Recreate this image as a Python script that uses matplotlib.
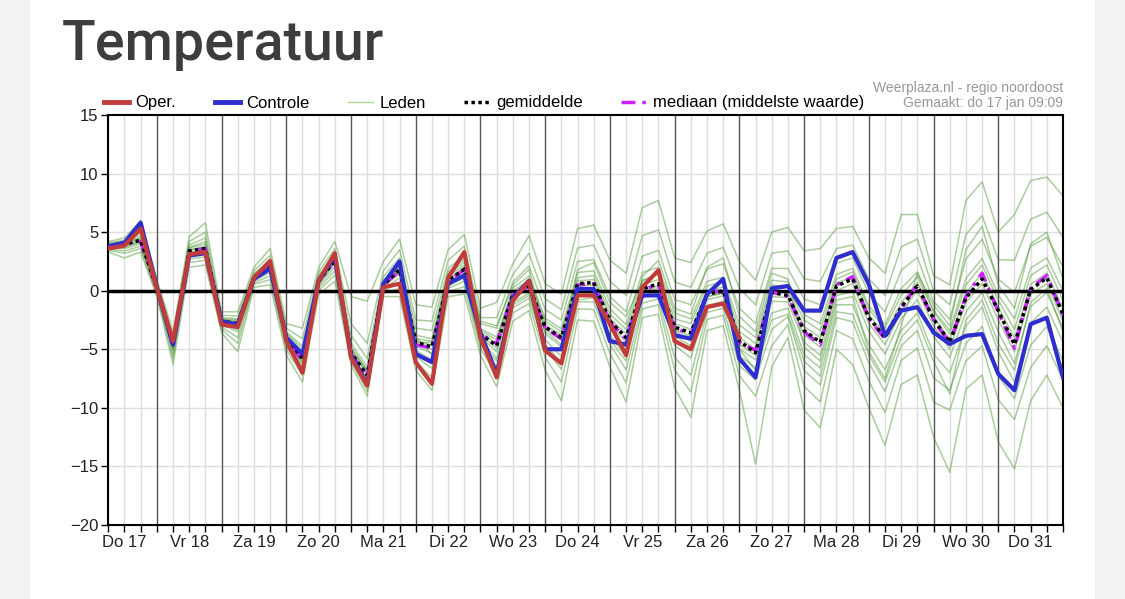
import matplotlib
matplotlib.use("Agg")
import matplotlib.pyplot as plt
from matplotlib.lines import Line2D
from matplotlib.patches import Rectangle

plt.rcParams['font.family'] = ['Liberation Sans', 'DejaVu Sans']

# time axis: hours after do 17 jan 00:00, every 6 hours
hours = list(range(6, 361, 6))
day_labels = ["Do 17", "Vr 18", "Za 19", "Zo 20", "Ma 21", "Di 22", "Wo 23", "Do 24",
              "Vr 25", "Za 26", "Zo 27", "Ma 28", "Di 29", "Wo 30", "Do 31"]

# operational run (runs until zo 27 00:00)
oper = [3.6, 3.85, 5.3, 0.2, -4.3, 3.1, 3.3, -2.9, -3.1, 1.1,
        2.55, -4.3, -7.0, 0.85, 3.2, -5.7, -8.1, 0.3, 0.6, -6.1,
        -7.95, 1.1, 3.3, -4.0, -7.4, -0.85, 0.85, -5.1, -6.2, -0.4,
        -0.4, -2.85, -5.5, 0.3, 1.75, -4.3, -5.0, -1.4, -1.1, -4.0]

controle = [3.8, 4.1, 5.8, 0.3, -4.6, 3.0, 3.2, -2.6, -2.9, 1.0,
            1.9, -4.0, -5.4, 0.9, 2.9, -5.5, -8.0, 0.6, 2.5, -5.4,
            -6.1, 0.6, 1.3, -3.6, -7.1, -0.6, 0.85, -5.0, -5.0, 0.15,
            0.15, -4.3, -4.6, -0.4, -0.4, -3.8, -4.1, -0.3, 1.0, -5.8,
            -7.4, 0.2, 0.4, -1.7, -1.7, 2.8, 3.3, 0.55, -3.85, -1.7,
            -1.4, -3.55, -4.55, -3.85, -3.7, -7.1, -8.5, -2.85, -2.3, -7.4]

gemiddelde = [3.8, 4.0, 4.3, 0.2, -4.6, 3.4, 3.6, -2.6, -2.8, 1.1,
              2.0, -4.0, -5.8, 0.8, 2.6, -5.3, -7.2, 0.5, 1.8, -4.4,
              -4.8, 0.85, 1.85, -3.7, -4.7, -0.3, 0.4, -3.1, -4.0, 0.6,
              0.7, -2.6, -4.0, 0.15, 0.6, -3.1, -3.6, -0.3, 0.0, -4.3,
              -5.3, -0.15, -0.4, -3.4, -4.4, 0.4, 1.0, -2.3, -4.0, -1.4,
              0.4, -2.4, -4.4, -0.6, 1.0, -1.7, -4.6, 0.1, 1.1, -2.0]

mediaan = [3.8, 4.0, 4.2, 0.2, -4.8, 3.4, 3.6, -2.6, -2.9, 1.1,
           2.0, -4.1, -6.0, 0.8, 2.6, -5.4, -7.3, 0.5, 1.7, -4.6,
           -4.9, 0.8, 1.8, -3.7, -4.5, -0.3, 0.4, -3.2, -4.1, 0.5,
           0.6, -2.7, -4.1, 0.1, 0.5, -3.2, -3.7, -0.3, 0.1, -4.4,
           -5.1, -0.1, -0.5, -3.5, -4.6, 0.5, 1.2, -2.4, -4.1, -1.5,
           0.5, -2.5, -4.5, -0.5, 1.5, -1.8, -4.9, 0.2, 1.3, -2.1]

lid_01 = [4.2, 4.5, 6.0, 1.0, -3.5, 4.6, 5.8, -1.8, -1.8, 2.0,
          3.6, -2.8, -3.2, 2.0, 4.2, -0.5, -0.9, 2.5, 4.4, -1.2,
          -1.4, 3.5, 4.8, -1.5, -1.0, 2.3, 4.7, 0.6, -0.3, 5.3,
          5.6, 2.6, 1.5, 7.1, 7.7, 2.8, 2.4, 5.1, 5.7, 2.5,
          0.9, 5.0, 5.4, 3.4, 3.6, 5.3, 5.5, 2.8, 1.5, 6.5,
          6.5, 1.3, 0.5, 7.7, 9.3, 5.0, 6.5, 9.4, 9.7, 8.1]
lid_02 = [4.1, 4.3, 5.4, 0.7, -3.9, 4.2, 5.0, -2.1, -2.15, 1.7,
          3.0, -3.2, -4.1, 1.6, 3.6, -2.8, -4.5, 1.7, 3.5, -2.5,
          -2.6, 2.6, 3.8, -2.3, -2.3, 1.4, 3.2, -0.7, -1.6, 3.65,
          3.9, 0.8, -0.4, 4.7, 5.2, 0.75, 0.3, 3.2, 3.7, 0.2,
          -1.2, 3.2, 3.4, 1.0, 0.8, 3.6, 3.9, 1.0, -0.4, 3.75,
          4.4, 0.0, -1.2, 4.8, 6.4, 2.65, 2.6, 6.1, 6.7, 4.55]
lid_03 = [4.0, 4.2, 5.0, 0.5, -4.15, 3.9, 4.5, -2.3, -2.4, 1.45,
          2.65, -3.5, -4.75, 1.3, 3.25, -3.8, -5.8, 1.2, 2.8, -3.2,
          -3.4, 1.9, 3.0, -2.8, -3.2, 0.75, 2.1, -1.6, -2.5, 2.5,
          2.65, -0.5, -1.8, 2.95, 3.45, -0.75, -1.2, 1.85, 2.3, -1.5,
          -2.8, 1.9, 1.9, -0.7, -1.2, 2.35, 2.8, -0.25, -1.8, 1.75,
          2.85, -0.9, -2.45, 2.7, 4.4, 1.0, -0.15, 3.8, 4.55, 2.05]
lid_04 = [3.9, 4.1, 4.6, 0.35, -4.4, 3.65, 4.0, -2.45, -2.6, 1.3,
          2.3, -3.75, -5.3, 1.05, 2.9, -4.5, -6.5, 0.85, 2.3, -3.8,
          -4.1, 1.4, 2.45, -3.25, -3.95, 0.25, 1.25, -2.35, -3.25, 1.55,
          1.7, -1.55, -2.9, 1.55, 2.0, -1.9, -2.4, 0.8, 1.15, -2.9,
          -4.0, 0.9, 0.75, -2.05, -2.8, 1.4, 1.9, -1.3, -2.9, 0.2,
          1.6, -1.65, -3.4, 1.05, 2.75, -0.35, -2.4, 1.95, 2.8, 0.0]
lid_05 = [3.8, 4.0, 4.4, 0.25, -4.55, 3.45, 3.7, -2.55, -2.75, 1.15,
          2.1, -3.95, -5.7, 0.85, 2.7, -5.1, -7.0, 0.6, 1.9, -4.3,
          -4.65, 1.0, 2.0, -3.6, -4.5, -0.15, 0.6, -2.9, -3.8, 0.85,
          0.95, -2.35, -3.7, 0.5, 0.95, -2.8, -3.3, 0.0, 0.3, -4.0,
          -5.0, 0.1, -0.1, -3.05, -4.0, 0.65, 1.2, -2.05, -3.7, -1.0,
          0.7, -2.2, -4.15, -0.2, 1.5, -1.35, -4.05, 0.55, 1.5, -1.5]
lid_06 = [3.7, 3.8, 4.15, 0.1, -4.85, 3.2, 3.4, -2.75, -3.15, 1.0,
          1.8, -4.2, -6.1, 0.65, 2.35, -5.4, -7.4, 0.35, 1.45, -4.75,
          -5.35, 0.65, 1.5, -3.95, -5.2, -0.65, 0.1, -3.65, -4.8, 0.15,
          0.2, -3.2, -4.85, -0.2, 0.2, -3.9, -4.7, -0.75, -0.45, -4.95,
          -5.9, -0.9, -0.95, -4.4, -5.5, -0.4, -0.1, -3.45, -5.4, -2.4,
          -0.75, -3.9, -5.7, -1.8, -0.15, -3.5, -6.2, -1.35, -0.15, -3.2]
lid_07 = [3.65, 3.6, 4.0, 0.0, -5.1, 3.0, 3.2, -2.9, -3.5, 0.85,
          1.55, -4.45, -6.4, 0.45, 2.05, -5.6, -7.8, 0.15, 1.1, -5.1,
          -5.9, 0.45, 1.2, -4.25, -5.75, -1.0, -0.2, -4.2, -5.6, -0.35,
          -0.3, -3.8, -5.65, -0.6, -0.2, -4.65, -5.75, -1.25, -0.9, -5.55,
          -6.6, -1.9, -1.5, -5.45, -6.6, -1.2, -1.2, -4.6, -6.75, -3.4,
          -1.9, -5.4, -7.0, -3.0, -1.4, -5.2, -7.8, -2.75, -1.4, -4.4]
lid_08 = [3.55, 3.4, 3.8, -0.15, -5.45, 2.7, 2.9, -3.1, -4.0, 0.7,
          1.25, -4.75, -6.8, 0.25, 1.7, -5.8, -8.2, 0.0, 0.65, -5.6,
          -6.65, 0.2, 0.8, -4.6, -6.5, -1.45, -0.65, -4.95, -6.7, -0.95,
          -0.95, -4.55, -6.75, -1.05, -0.7, -5.7, -7.2, -1.85, -1.5, -6.4,
          -7.6, -3.3, -2.2, -6.8, -8.05, -2.3, -2.65, -6.15, -8.6, -4.7,
          -3.4, -7.45, -8.5, -4.5, -3.05, -7.3, -9.2, -4.65, -3.05, -6.0]
lid_09 = [3.45, 3.2, 3.6, -0.3, -5.8, 2.4, 2.6, -3.3, -4.5, 0.55,
          0.95, -5.05, -7.2, 0.0, 1.35, -6.0, -8.6, -0.2, 0.2, -6.1,
          -7.4, -0.1, 0.35, -4.95, -7.2, -1.9, -1.1, -5.7, -7.8, -1.55,
          -1.6, -5.35, -7.85, -1.55, -1.2, -6.75, -8.65, -2.45, -2.1, -7.25,
          -9.0, -4.7, -2.9, -8.15, -9.5, -3.4, -4.1, -7.7, -10.4, -5.95,
          -4.9, -9.5, -10.2, -6.0, -4.7, -9.3, -11.0, -6.55, -4.7, -7.6]
lid_10 = [3.3, 2.8, 3.3, -0.5, -6.3, 2.0, 2.2, -3.6, -5.2, 0.3,
          0.5, -5.5, -7.8, -0.3, 0.8, -6.3, -9.0, -0.5, -0.5, -6.8,
          -8.5, -0.5, -0.3, -5.5, -8.2, -2.6, -1.7, -6.8, -9.4, -2.5,
          -2.6, -6.5, -9.5, -2.3, -2.0, -8.3, -10.8, -3.4, -3.0, -8.5,
          -14.8, -6.5, -4.0, -10.2, -11.7, -5.0, -6.3, -10.0, -13.2, -8.0,
          -7.2, -12.5, -15.5, -8.4, -7.2, -12.9, -15.2, -9.4, -7.2, -10.0]
lid_11 = [3.9, 4.2, 4.8, 0.4, -4.3, 3.7, 4.2, -2.4, -2.5, 1.4,
          2.5, -3.6, -5.0, 1.1, 3.0, -4.8, -6.8, 0.7, 2.1, -3.9,
          -5.5, 0.4, 1.1, -4.5, -6.0, -1.2, -0.4, -4.6, -6.2, -0.8,
          -0.6, -4.2, -6.0, 1.2, 2.6, -1.5, -2.0, 2.0, 2.8, -2.2,
          -3.5, 1.5, 1.0, -4.8, -6.0, -0.8, -0.5, -5.2, -7.5, -3.0,
          1.5, -1.2, -3.0, 3.5, 5.5, 0.5, -1.5, 4.0, 5.0, 1.0]
lid_12 = [3.6, 3.7, 4.2, 0.0, -5.0, 3.1, 3.3, -2.8, -3.3, 0.9,
          1.7, -4.3, -6.2, 0.6, 2.4, -5.5, -7.6, 0.4, 1.6, -4.4,
          -4.4, 1.6, 2.7, -2.6, -3.0, 0.5, 1.8, -3.4, -4.6, 1.8,
          2.4, -1.0, -2.2, 0.8, 1.5, -3.4, -4.3, -0.5, -0.2, -5.0,
          -6.8, -2.5, -2.0, -6.0, -7.3, -1.8, -2.0, -5.5, -7.8, -4.0,
          -2.5, -6.0, -8.8, -2.5, -0.8, -4.5, -6.8, -1.0, 0.2, -3.5]
lid_13 = [3.75, 3.9, 4.3, 0.15, -4.7, 3.3, 3.5, -2.7, -2.9, 1.05,
          2.0, -4.1, -5.9, 0.75, 2.5, -5.2, -7.1, 0.5, 1.7, -4.6,
          -5.0, 0.9, 1.7, -3.8, -4.9, -0.4, 0.3, -3.2, -4.2, 0.4,
          0.5, -2.9, -4.4, -0.1, 0.4, -3.3, -3.9, -0.5, -0.2, -4.6,
          -5.5, -0.5, -0.6, -3.8, -4.8, 0.0, 0.6, -2.8, -4.6, -1.8,
          0.0, -3.0, -5.0, -1.0, 0.6, -2.5, -5.2, -0.3, 0.6, -2.6]
lid_14 = [3.85, 4.05, 4.5, 0.3, -4.5, 3.5, 3.8, -2.5, -2.7, 1.2,
          2.2, -3.9, -5.5, 0.9, 2.8, -4.9, -6.8, 0.65, 2.0, -4.1,
          -4.3, 1.2, 2.2, -3.4, -4.2, 0.0, 0.9, -2.6, -3.5, 1.1,
          1.3, -2.0, -3.3, 0.9, 1.4, -2.4, -2.8, 0.4, 0.8, -3.5,
          -4.5, 0.5, 0.3, -2.5, -3.4, 1.0, 1.6, -1.6, -3.2, -0.4,
          1.2, -1.8, -3.7, 0.5, 2.2, -0.8, -3.3, 1.3, 2.2, -0.8]
leden = [lid_01, lid_02, lid_03, lid_04, lid_05, lid_06, lid_07,
         lid_08, lid_09, lid_10, lid_11, lid_12, lid_13, lid_14]

W, H = 1125, 599
fig = plt.figure(figsize=(W / 100, H / 100), dpi=100)
fig.patch.set_facecolor('#f2f2f2')
fig.patches.append(Rectangle((30 / W, 0), (1095 - 30) / W, 1, transform=fig.transFigure,
                             facecolor='white', edgecolor='none', zorder=-1))

ax = fig.add_axes([108.3 / W, 1 - 525 / H, (1063 - 108.3) / W, (525 - 115) / H])

# grid: 6-hourly light lines, darker lines at midnight
for h in hours:
    if h % 24 == 0:
        ax.axvline(h, color='#555555', lw=1, zorder=2.5)
    else:
        ax.axvline(h, color='#dedede', lw=1, zorder=1)
for v in (-15, -10, -5, 5, 10):
    ax.axhline(v, color='#dedede', lw=1, zorder=1)

for lid in leden:
    ax.plot(hours, lid, color='#45932a', lw=1.1, alpha=0.45, zorder=2)

ax.axhline(0, color='black', lw=2.5, zorder=3)
ax.plot(hours, mediaan, color='#cc22ff', lw=2.5, ls=(0, (4, 2, 1, 2)), zorder=4)
ax.plot(hours, gemiddelde, color='black', lw=2.5, ls=(0, (1, 1)), zorder=5)
ax.plot(hours, controle, color='#2e2ed0', lw=3, zorder=6)
ax.plot(hours[:len(oper)], oper, color='#c23b3b', lw=3, zorder=7)

ax.set_xlim(6, 360)
ax.set_ylim(-20, 15)
ax.set_yticks(range(-20, 16, 5))
ax.set_xticks(hours)
xlabels = []
for h in hours:
    if h % 24 == 12:
        xlabels.append(day_labels[h // 24])
    else:
        xlabels.append('')
ax.set_xticklabels(xlabels)
ax.tick_params(axis='both', length=5, width=1, direction='out', labelsize=12,
               labelcolor='#222222', color='black', pad=2)
for s in ax.spines.values():
    s.set_linewidth(1.5)
    s.set_color('black')

handles = [
    Line2D([], [], color='#c23b3b', lw=3.5),
    Line2D([], [], color='#2e2ed0', lw=3.5),
    Line2D([], [], color='#a9d88f', lw=1),
    Line2D([], [], color='black', lw=2.5, ls=(0, (1, 1))),
    Line2D([], [], color='#cc22ff', lw=2.5, ls=(0, (4, 2, 1, 2))),
]
names = ['Oper.', 'Controle', 'Leden', 'gemiddelde', 'mediaan (middelste waarde)']
fig.legend(handles, names, loc='center left', bbox_to_anchor=(104 / W, 1 - 103 / H),
           ncol=5, frameon=False, fontsize=12, handlelength=1.5, handletextpad=0.4,
           columnspacing=2.3, borderpad=0, borderaxespad=0)

fig.text(62 / W, 1 - 60 / H, 'Temperatuur', fontsize=40, family='Roboto',
         fontweight='medium', color='#3d3d3d', va='baseline')
fig.text(1063 / W, 1 - 88 / H, 'Weerplaza.nl - regio noordoost', ha='right', va='center',
         fontsize=10, color='#999999')
fig.text(1063 / W, 1 - 103 / H, 'Gemaakt: do 17 jan 09:09', ha='right', va='center',
         fontsize=10, color='#999999')

fig.savefig('out.png', dpi=100, facecolor=fig.get_facecolor())
